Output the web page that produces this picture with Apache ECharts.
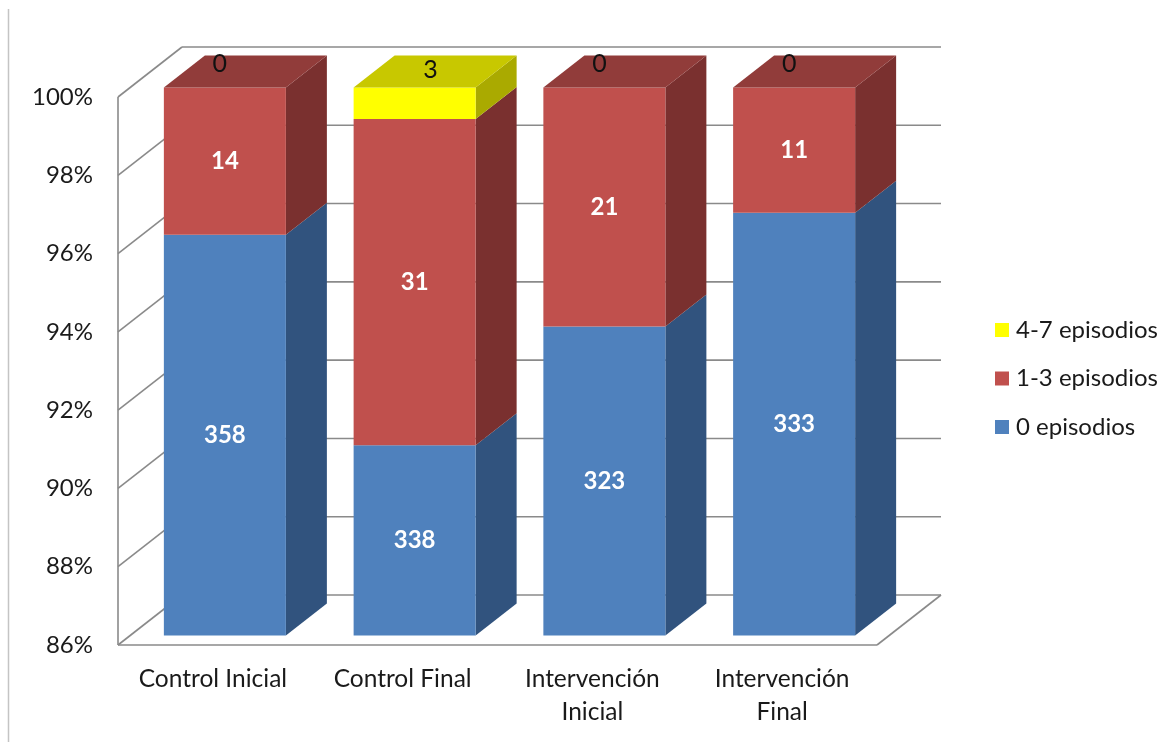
<!DOCTYPE html>
<html>
<head>
<meta charset="utf-8">
<title>Episodios por grupo</title>
<script src="https://cdn.jsdelivr.net/npm/echarts@6/dist/echarts.min.js"></script>
<style>
  html, body { margin: 0; padding: 0; background: #fff; }
  #chart { width: 1169px; height: 742px; }
</style>
</head>
<body>
<div id="chart"></div>
<script>
// Counts per group
const categories = ['Control Inicial', 'Control Final', 'Intervención\nInicial', 'Intervención\nFinal'];
const episodios0 = [358, 338, 323, 333];
const episodios13 = [14, 31, 21, 11];
const episodios47 = [0, 3, 0, 0];
const seriesNames = ['0 episodios', '1-3 episodios', '4-7 episodios'];
const yMin = 86, yMax = 100, yStep = 2;

// Face colours: front, side, top
const palette = [
  { front: '#4F81BD', side: '#31537E', top: '#3C6496', label: '#ffffff', bold: true },
  { front: '#C0504D', side: '#7A302F', top: '#913C3A', label: '#ffffff', bold: true },
  { front: '#FFFF00', side: '#AAAA00', top: '#C8C800', label: '#111111', bold: false }
];

const FONT = 'Lato';
// 3D projection offsets
const DX = 64, DY = -50;          // full depth of the plot box
const FX = 12, FY = -9.5;         // bar front face inset from the front plane
const BX = 41, BY = -32;          // bar depth
const BAR_RATIO = 0.643;

const stacks = [episodios0, episodios13, episodios47];
const totals = categories.map((_, i) => stacks.reduce((s, arr) => s + arr[i], 0));

function segmentData(s) {
  return categories.map((_, i) => {
    let below = 0;
    for (let k = 0; k < s; k++) below += stacks[k][i];
    const start = below / totals[i] * 100;
    const end = (below + stacks[s][i]) / totals[i] * 100;
    return [i, start, end, stacks[s][i]];
  });
}

function isTopmost(s, i) {
  for (let k = s + 1; k < stacks.length; k++) if (stacks[k][i] > 0) return false;
  return stacks[s][i] > 0;
}

function makeRender(s) {
  const col = palette[s];
  return function (params, api) {
    const i = api.value(0);
    const v0 = Math.max(api.value(1), yMin), v1 = api.value(2);
    const count = api.value(3);
    const p0 = api.coord([i, v0]);
    const p1 = api.coord([i, v1]);
    const bw = api.size([1, 0])[0] * BAR_RATIO;
    const L = p0[0] - bw / 2 + FX, R = L + bw;
    const yb = p0[1] + FY, yt = p1[1] + FY;
    const children = [];
    if (count > 0) {
      children.push({
        type: 'polygon',
        shape: { points: [[R, yb], [R + BX, yb + BY], [R + BX, yt + BY], [R, yt]] },
        style: { fill: col.side }
      });
      children.push({
        type: 'rect',
        shape: { x: L, y: yt, width: bw, height: yb - yt },
        style: { fill: col.front }
      });
      if (isTopmost(s, i)) {
        children.push({
          type: 'polygon',
          shape: { points: [[L, yt], [R, yt], [R + BX, yt + BY], [L + BX, yt + BY]] },
          style: { fill: col.top }
        });
      }
    }
    let lx = (L + R) / 2, ly = (yt + yb) / 2;
    if (s === 2) {
      if (count > 0) { lx += 16; ly = yt - 18; }
      else { lx -= 5; ly = yt - 24; }
    }
    children.push({
      type: 'text',
      style: {
        text: String(count), x: lx, y: ly,
        fill: col.label, fontFamily: FONT, fontSize: col.bold ? 24 : 25,
        fontWeight: col.bold ? 'bold' : 'normal',
        align: 'center', verticalAlign: 'middle'
      },
      z2: 10
    });
    return { type: 'group', children: children };
  };
}

const tickValues = [];
for (let v = yMin; v <= yMax; v += yStep) tickValues.push([0, v]);

function renderWalls(params, api) {
  const cs = params.coordSys;
  const y = api.coord([0, api.value(1)])[1];
  const x0 = cs.x, x1 = cs.x + cs.width;
  const line = { stroke: '#8a8a8a', lineWidth: 1.6 };
  const children = [
    { type: 'line', shape: { x1: x0 + DX, y1: y + DY, x2: x1 + DX, y2: y + DY }, style: line },
    { type: 'line', shape: { x1: x0, y1: y, x2: x0 + DX, y2: y + DY }, style: line }
  ];
  if (api.value(1) === yMin) {
    children.push({ type: 'line', shape: { x1: x0, y1: y, x2: x1, y2: y }, style: line });
    children.push({ type: 'line', shape: { x1: x1, y1: y, x2: x1 + DX, y2: y + DY }, style: line });
    children.push({ type: 'line', shape: { x1: x0, y1: y, x2: x0, y2: cs.y }, style: line });
  }
  return { type: 'group', children: children };
}

const chart = echarts.init(document.getElementById('chart'), null, { renderer: 'canvas' });

const series = [{
  type: 'custom',
  name: 'walls',
  data: tickValues,
  renderItem: renderWalls,
  encode: { x: 0, y: 1 },
  silent: true,
  z: 1
}];
for (let s = 0; s < 3; s++) {
  series.push({
    type: 'custom',
    name: seriesNames[s],
    data: segmentData(s),
    renderItem: makeRender(s),
    encode: { x: 0, y: [1, 2] },
    itemStyle: { color: palette[s].front },
    z: 2
  });
}

chart.setOption({
  animation: false,
  backgroundColor: '#ffffff',
  grid: { left: 118, right: 292, top: 97, bottom: 97 },
  xAxis: {
    type: 'category',
    data: categories,
    axisLine: { show: false },
    axisTick: { show: false },
    axisLabel: {
      interval: 0, margin: 18, color: '#1a1a1a',
      fontFamily: FONT, fontSize: 24.5, lineHeight: 33
    }
  },
  yAxis: {
    type: 'value',
    min: yMin, max: yMax, interval: yStep,
    axisLine: { show: false },
    axisTick: { show: false },
    splitLine: { show: false },
    axisLabel: {
      margin: 25, color: '#1a1a1a',
      fontFamily: FONT, fontSize: 24,
      formatter: '{value}%'
    }
  },
  legend: {
    data: ['4-7 episodios', '1-3 episodios', '0 episodios'],
    orient: 'vertical',
    left: 995, top: 318, padding: 0,
    icon: 'rect', itemWidth: 14, itemHeight: 14, itemGap: 24.5,
    textStyle: { fontFamily: FONT, fontSize: 24, lineHeight: 24, color: '#1a1a1a', padding: [0, 0, 0, 2] }
  },
  graphic: [{
    type: 'line',
    shape: { x1: 8.5, y1: 9, x2: 8.5, y2: 742 },
    style: { stroke: '#c4c4c4', lineWidth: 1.5 },
    silent: true
  }],
  series: series
});
</script>
</body>
</html>
